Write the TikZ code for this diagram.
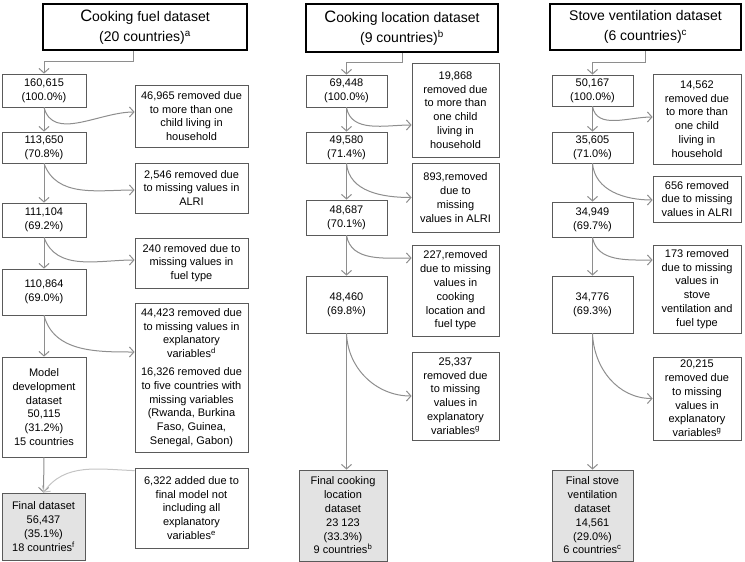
\documentclass[tikz,border=0pt]{standalone}
\usepackage{fontspec}
\setmainfont{Liberation Sans}
\usepackage{tikz}
\usetikzlibrary{arrows.meta,positioning,calc}
\definecolor{boxline}{HTML}{5A5A5A}
\definecolor{flowgray}{HTML}{8E8E8E}
\definecolor{palegray}{HTML}{C4C4C4}
\definecolor{finalfill}{HTML}{E3E3E3}
\newcommand{\bigC}{{\fontsize{16.5}{19}\selectfont C}}

\begin{document}
\begin{tikzpicture}[x=1pt, y=-1pt, >={Straight Barb[length=4.5pt,width=10pt]},
  titlebox/.style={draw=black, line width=2.4pt, align=center, inner sep=0pt, font=\fontsize{14}{20.5}\selectfont},
  countbox/.style={draw=boxline, line width=0.8pt, align=center, inner sep=1pt, font=\fontsize{11}{13.8}\selectfont},
  notebox/.style={countbox},
  finalbox/.style={countbox, fill=finalfill},
  flow/.style={->, draw=flowgray, line width=1pt},
  size/.style 2 args={minimum width=#1, minimum height=#2}]
  \useasboundingbox (0,0) rectangle (745,562);
  % cooking fuel column
  \node[titlebox, size={204pt}{46pt}] (ftitle) at (145,27) {\bigC ooking fuel dataset\\(20 countries)\textsuperscript{a}};
  \node[countbox, size={84pt}{33pt}] (f1) at (44,90.5) {160,615\\(100.0\%)};
  \node[countbox, size={84pt}{31pt}] (f2) at (44,147.5) {113,650\\(70.8\%)};
  \node[countbox, size={84pt}{34pt}] (f3) at (44,220) {111,104\\(69.2\%)};
  \node[countbox, size={84pt}{46pt}] (f4) at (44,292) {110,864\\(69.0\%)};
  \node[countbox, size={84pt}{100pt}] (f5) at (44,407) {Model\\development\\dataset\\50,115\\(31.2\%)\\15 countries};
  \node[finalbox, size={83pt}{67pt}] (ffinal) at (43.5,526.5) {Final dataset\\56,437\\(35.1\%)\\18 countries\textsuperscript{f}};
  \node[notebox, size={113pt}{62pt}] (fr1) at (191.5,116) {46,965 removed due\\to more than one\\child living in\\household};
  \node[notebox, size={113pt}{50pt}] (fr2) at (191.5,188) {2,546 removed due\\to missing values in\\ALRI};
  \node[notebox, size={113pt}{50pt}] (fr3) at (191.5,263) {240 removed due to\\missing values in\\fuel type};
  \node[notebox, size={113pt}{149pt}] (fr4) at (191.5,377.5) {44,423 removed due\\to missing values in\\explanatory\\variables\textsuperscript{d}\\[4pt]16,326 removed due\\to five countries with\\missing variables\\(Rwanda, Burkina\\Faso, Guinea,\\Senegal, Gabon)};
  \node[notebox, size={113pt}{80pt}] (fr5) at (191.5,508) {6,322 added due to\\final model not\\including all\\explanatory\\variables\textsuperscript{e}};
  % cooking location column
  \node[titlebox, size={192pt}{48pt}] (ltitle) at (402,28) {\bigC ooking location dataset\\(9 countries)\textsuperscript{b}};
  \node[countbox, size={81pt}{32pt}] (l1) at (346.5,91) {69,448\\(100.0\%)};
  \node[countbox, size={81pt}{31pt}] (l2) at (346.5,147.5) {49,580\\(71.4\%)};
  \node[countbox, size={81pt}{35pt}] (l3) at (346.5,217.5) {48,687\\(70.1\%)};
  \node[countbox, size={81pt}{57pt}] (l4) at (346.5,304.5) {48,460\\(69.8\%)};
  \node[finalbox, size={88pt}{91pt}] (lfinal) at (343,515.5) {Final cooking\\location\\dataset\\23 123\\(33.3\%)\\9 countries\textsuperscript{b}};
  \node[notebox, size={87pt}{94pt}] (lr1) at (455.5,110) {19,868\\removed due\\to more than\\one child\\living in\\household};
  \node[notebox, size={87pt}{69pt}] (lr2) at (455.5,197.5) {893,removed\\due to\\missing\\values in ALRI};
  \node[notebox, size={87pt}{91pt}] (lr3) at (455.5,290.5) {227,removed\\due to missing\\values in\\cooking\\location and\\fuel type};
  \node[notebox, size={87pt}{88pt}] (lr4) at (455.5,396) {25,337\\removed due\\to missing\\values in\\explanatory\\variables\textsuperscript{g}};
  % stove ventilation column
  \node[titlebox, size={191pt}{46pt}] (stitle) at (645.5,27) {Stove ventilation dataset\\(6 countries)\textsuperscript{c}};
  \node[countbox, size={81pt}{31pt}] (s1) at (592.5,90.5) {50,167\\(100.0\%)};
  \node[countbox, size={81pt}{31pt}] (s2) at (592.5,147.5) {35,605\\(71.0\%)};
  \node[countbox, size={81pt}{35pt}] (s3) at (592.5,219.5) {34,949\\(69.7\%)};
  \node[countbox, size={81pt}{57pt}] (s4) at (592.5,304.5) {34,776\\(69.3\%)};
  \node[finalbox, size={81pt}{91pt}] (sfinal) at (592.5,515.5) {Final stove\\ventilation\\dataset\\14,561\\(29.0\%)\\6 countries\textsuperscript{c}};
  \node[notebox, size={88pt}{90pt}] (sr1) at (697,119) {14,562\\removed due\\to more than\\one child\\living in\\household};
  \node[notebox, size={88pt}{46pt}] (sr2) at (697,199) {656 removed\\due to missing\\values in ALRI};
  \node[notebox, size={88pt}{88pt}] (sr3) at (697,289) {173 removed\\due to missing\\values in\\stove\\ventilation and\\fuel type};
  \node[notebox, size={88pt}{83pt}] (sr4) at (697,398.5) {20,215\\removed due\\to missing\\values in\\explanatory\\variables\textsuperscript{g}};
  % connectors
  \draw[flow] ([xshift=-12pt]ftitle.south) -- ++(0,10) -| (f1.north);
  \draw[flow] (f1.south) -- (f2.north);
  \draw[flow] (f2.south) -- (f3.north);
  \draw[flow] (f3.south) -- (f4.north);
  \draw[flow] (f4.south) -- (f5.north);
  \draw[flow] (f5.south) -- (ffinal.north);
  \draw[flow] (f1.south) to[out=-75, in=180] ([yshift=4pt]fr1.west);
  \draw[flow] (f2.south) to[out=-70, in=180] ([yshift=-2pt]fr2.west);
  \draw[flow] (f3.south) to[out=-70, in=180] ([yshift=3pt]fr3.west);
  \draw[flow] (f4.south) to[out=-75, in=180] ([yshift=25.5pt]fr4.west);
  \draw[flow, draw=palegray] ([yshift=-3pt]fr5.north west) to[out=178, in=55] (ffinal.north);
  \draw[flow] (ltitle.south) -- ++(0,9) -| (l1.north);
  \draw[flow] (l1.south) -- (l2.north);
  \draw[flow] (l2.south) -- (l3.north);
  \draw[flow] (l3.south) -- (l4.north);
  \draw[flow] (l4.south) -- (lfinal.north -| l4.south);
  \draw[flow] (l1.south) to[out=-80, in=180] ([yshift=-15pt]lr1.west);
  \draw[flow] (l2.south) to[out=-85, in=180] (lr2.west);
  \draw[flow] (l3.south) to[out=-80, in=180] ([yshift=32.5pt]lr3.west);
  \draw[flow] (l4.south) to[out=-88, in=180] (lr4.west);
  \draw[flow] (stitle.south) -- ++(0,11) -| (s1.north);
  \draw[flow] (s1.south) -- (s2.north);
  \draw[flow] (s2.south) -- (s3.north);
  \draw[flow] (s3.south) -- (s4.north);
  \draw[flow] (s4.south) -- (sfinal.north);
  \draw[flow] (s1.south) to[out=-80, in=180] ([yshift=2pt]sr1.west);
  \draw[flow] (s2.south) to[out=-85, in=180] ([yshift=-1pt]sr2.west);
  \draw[flow] (s3.south) to[out=-80, in=180] ([yshift=29pt]sr3.west);
  \draw[flow] (s4.south) to[out=-88, in=180] (sr4.west);
\end{tikzpicture}
\end{document}
